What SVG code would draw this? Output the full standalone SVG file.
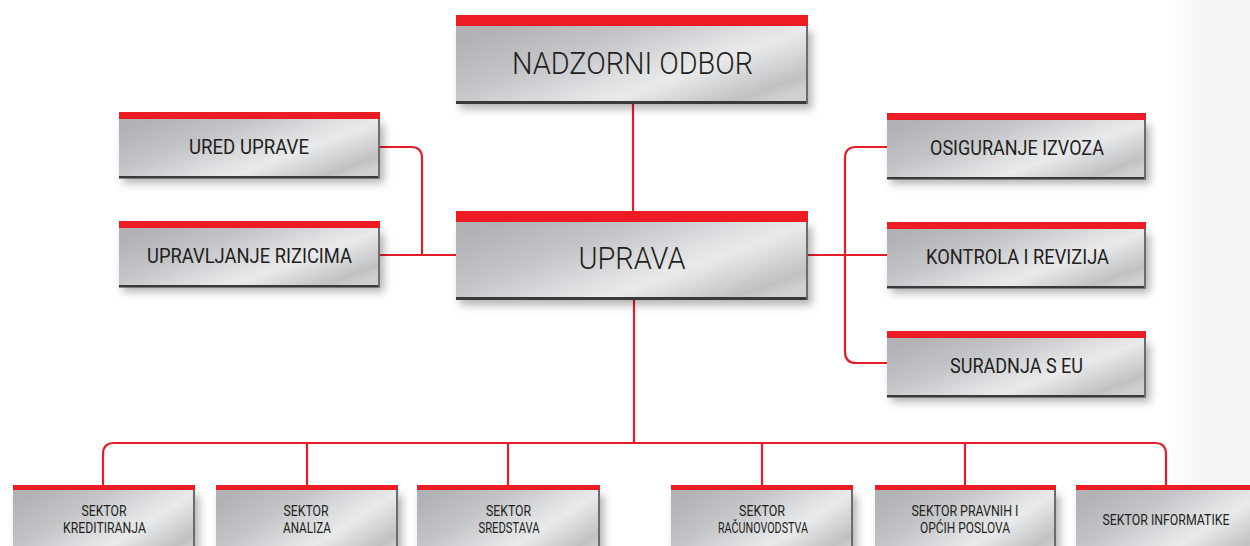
<svg xmlns="http://www.w3.org/2000/svg" width="1250" height="546" viewBox="0 0 1250 546">
<defs>
<linearGradient id="metal" x1="0" y1="0.2" x2="1" y2="0.8">
<stop offset="0" stop-color="#b1b2b5"/>
<stop offset="0.3" stop-color="#c4c5c8"/>
<stop offset="0.55" stop-color="#dfe0e2"/>
<stop offset="0.66" stop-color="#e9eaec"/>
<stop offset="0.8" stop-color="#d3d4d6"/>
<stop offset="0.92" stop-color="#c0c1c3"/>
<stop offset="1" stop-color="#cfd0d2"/>
</linearGradient>
<linearGradient id="bg" x1="0" y1="0" x2="1" y2="0">
<stop offset="0" stop-color="#ffffff"/>
<stop offset="0.45" stop-color="#f4f4f4"/>
<stop offset="1" stop-color="#f4f4f4"/>
</linearGradient>
<filter id="sh" x="-10%" y="-20%" width="125%" height="160%">
<feDropShadow dx="4" dy="5" stdDeviation="4" flood-color="#000" flood-opacity="0.3"/>
</filter>
</defs>
<style>
.body{fill:url(#metal);filter:url(#sh)}
.red{fill:#ed1c24}
.btm{fill:#3a3a3a}
.rgt{fill:#6b6c6e}
.t{font-family:Roboto,"Liberation Sans",sans-serif;fill:#231f20;text-anchor:middle}
.big{font-size:31px;font-weight:300}
.mid{font-size:21px}
.sm{font-size:14.5px}
.con{fill:none;stroke:#e31e2a;stroke-width:2.2}
</style>
<rect x="0" y="0" width="1250" height="546" fill="#fff"/>
<rect x="1165" y="0" width="85" height="546" fill="url(#bg)"/>

<g id="connectors">
<path class="con" d="M633,104 V211"/>
<path class="con" d="M634,300 V443"/>
<path class="con" d="M103,485 V454 Q103,443 114,443 H1155 Q1166,443 1166,454 V485"/>
<path class="con" d="M307,443 V485 M508,443 V485 M762,443 V485 M965,443 V485"/>
<path class="con" d="M456,255 H380 M380,147 H411 Q422,147 422,158 V255"/>
<path class="con" d="M808,255 H887 M887,147 H856 Q845,147 845,158 V352 Q845,363 856,363 H887"/>
</g>

<g id="nadzorni-odbor">
<rect class="body" x="456" y="26" width="352" height="78"/>
<rect class="btm" x="456" y="101" width="352" height="3"/>
<rect class="rgt" x="806" y="26" width="2" height="78"/>
<rect class="red" x="456" y="15" width="352" height="11"/>
<text class="t big" x="632.5" y="74" textLength="241" lengthAdjust="spacingAndGlyphs">NADZORNI ODBOR</text>
</g>

<g id="uprava">
<rect class="body" x="456" y="222" width="352" height="78"/>
<rect class="btm" x="456" y="297" width="352" height="3"/>
<rect class="rgt" x="806" y="222" width="2" height="78"/>
<rect class="red" x="456" y="211" width="352" height="11"/>
<text class="t big" x="632" y="269" textLength="107" lengthAdjust="spacingAndGlyphs">UPRAVA</text>
</g>

<g id="ured-uprave">
<rect class="body" x="119" y="119" width="261" height="59"/>
<rect class="btm" x="119" y="176" width="261" height="2.5"/>
<rect class="rgt" x="378" y="119" width="2" height="59"/>
<rect class="red" x="119" y="112" width="261" height="7"/>
<text class="t mid" x="249" y="154" textLength="120" lengthAdjust="spacingAndGlyphs">URED UPRAVE</text>
</g>

<g id="upravljanje-rizicima">
<rect class="body" x="119" y="228" width="261" height="59"/>
<rect class="btm" x="119" y="285" width="261" height="2.5"/>
<rect class="rgt" x="378" y="228" width="2" height="59"/>
<rect class="red" x="119" y="221" width="261" height="7"/>
<text class="t mid" x="249.5" y="263" textLength="205" lengthAdjust="spacingAndGlyphs">UPRAVLJANJE RIZICIMA</text>
</g>

<g id="osiguranje-izvoza">
<rect class="body" x="887" y="120" width="259" height="59"/>
<rect class="btm" x="887" y="177" width="259" height="2.5"/>
<rect class="rgt" x="1144" y="120" width="2" height="59"/>
<rect class="red" x="887" y="113" width="259" height="7"/>
<text class="t mid" x="1017" y="155" textLength="174" lengthAdjust="spacingAndGlyphs">OSIGURANJE IZVOZA</text>
</g>

<g id="kontrola-i-revizija">
<rect class="body" x="887" y="229" width="259" height="59"/>
<rect class="btm" x="887" y="286" width="259" height="2.5"/>
<rect class="rgt" x="1144" y="229" width="2" height="59"/>
<rect class="red" x="887" y="222" width="259" height="7"/>
<text class="t mid" x="1017.5" y="264" textLength="183" lengthAdjust="spacingAndGlyphs">KONTROLA I REVIZIJA</text>
</g>

<g id="suradnja-s-eu">
<rect class="body" x="887" y="338" width="259" height="59"/>
<rect class="btm" x="887" y="395" width="259" height="2.5"/>
<rect class="rgt" x="1144" y="338" width="2" height="59"/>
<rect class="red" x="887" y="331" width="259" height="7"/>
<text class="t mid" x="1016.5" y="373" textLength="133" lengthAdjust="spacingAndGlyphs">SURADNJA S EU</text>
</g>

<g id="sektor-kreditiranja">
<rect class="body" x="13" y="490" width="182" height="70"/>
<rect class="rgt" x="193" y="490" width="2" height="60"/>
<rect class="red" x="13" y="485" width="182" height="5"/>
<text class="t sm" x="104" y="516" textLength="45" lengthAdjust="spacingAndGlyphs">SEKTOR</text>
<text class="t sm" x="104.5" y="533" textLength="83" lengthAdjust="spacingAndGlyphs">KREDITIRANJA</text>
</g>

<g id="sektor-analiza">
<rect class="body" x="216" y="490" width="182" height="70"/>
<rect class="rgt" x="396" y="490" width="2" height="60"/>
<rect class="red" x="216" y="485" width="182" height="5"/>
<text class="t sm" x="306" y="516" textLength="45" lengthAdjust="spacingAndGlyphs">SEKTOR</text>
<text class="t sm" x="307" y="533" textLength="48" lengthAdjust="spacingAndGlyphs">ANALIZA</text>
</g>

<g id="sektor-sredstava">
<rect class="body" x="417" y="490" width="183" height="70"/>
<rect class="rgt" x="598" y="490" width="2" height="60"/>
<rect class="red" x="417" y="485" width="183" height="5"/>
<text class="t sm" x="508.5" y="516" textLength="45" lengthAdjust="spacingAndGlyphs">SEKTOR</text>
<text class="t sm" x="509" y="533" textLength="61" lengthAdjust="spacingAndGlyphs">SREDSTAVA</text>
</g>

<g id="sektor-racunovodstva">
<rect class="body" x="671" y="490" width="182" height="70"/>
<rect class="rgt" x="851" y="490" width="2" height="60"/>
<rect class="red" x="671" y="485" width="182" height="5"/>
<text class="t sm" x="762" y="516" textLength="46" lengthAdjust="spacingAndGlyphs">SEKTOR</text>
<text class="t sm" x="763" y="533" textLength="90" lengthAdjust="spacingAndGlyphs">RAČUNOVODSTVA</text>
</g>

<g id="sektor-pravnih">
<rect class="body" x="875" y="490" width="181" height="70"/>
<rect class="rgt" x="1054" y="490" width="2" height="60"/>
<rect class="red" x="875" y="485" width="181" height="5"/>
<text class="t sm" x="965" y="516" textLength="107" lengthAdjust="spacingAndGlyphs">SEKTOR PRAVNIH I</text>
<text class="t sm" x="965" y="533" textLength="90" lengthAdjust="spacingAndGlyphs">OPĆIH POSLOVA</text>
</g>

<g id="sektor-informatike">
<rect class="body" x="1076" y="490" width="190" height="70"/>
<rect class="red" x="1076" y="485" width="190" height="5"/>
<text class="t sm" x="1166" y="525" textLength="127" lengthAdjust="spacingAndGlyphs">SEKTOR INFORMATIKE</text>
</g>
</svg>
